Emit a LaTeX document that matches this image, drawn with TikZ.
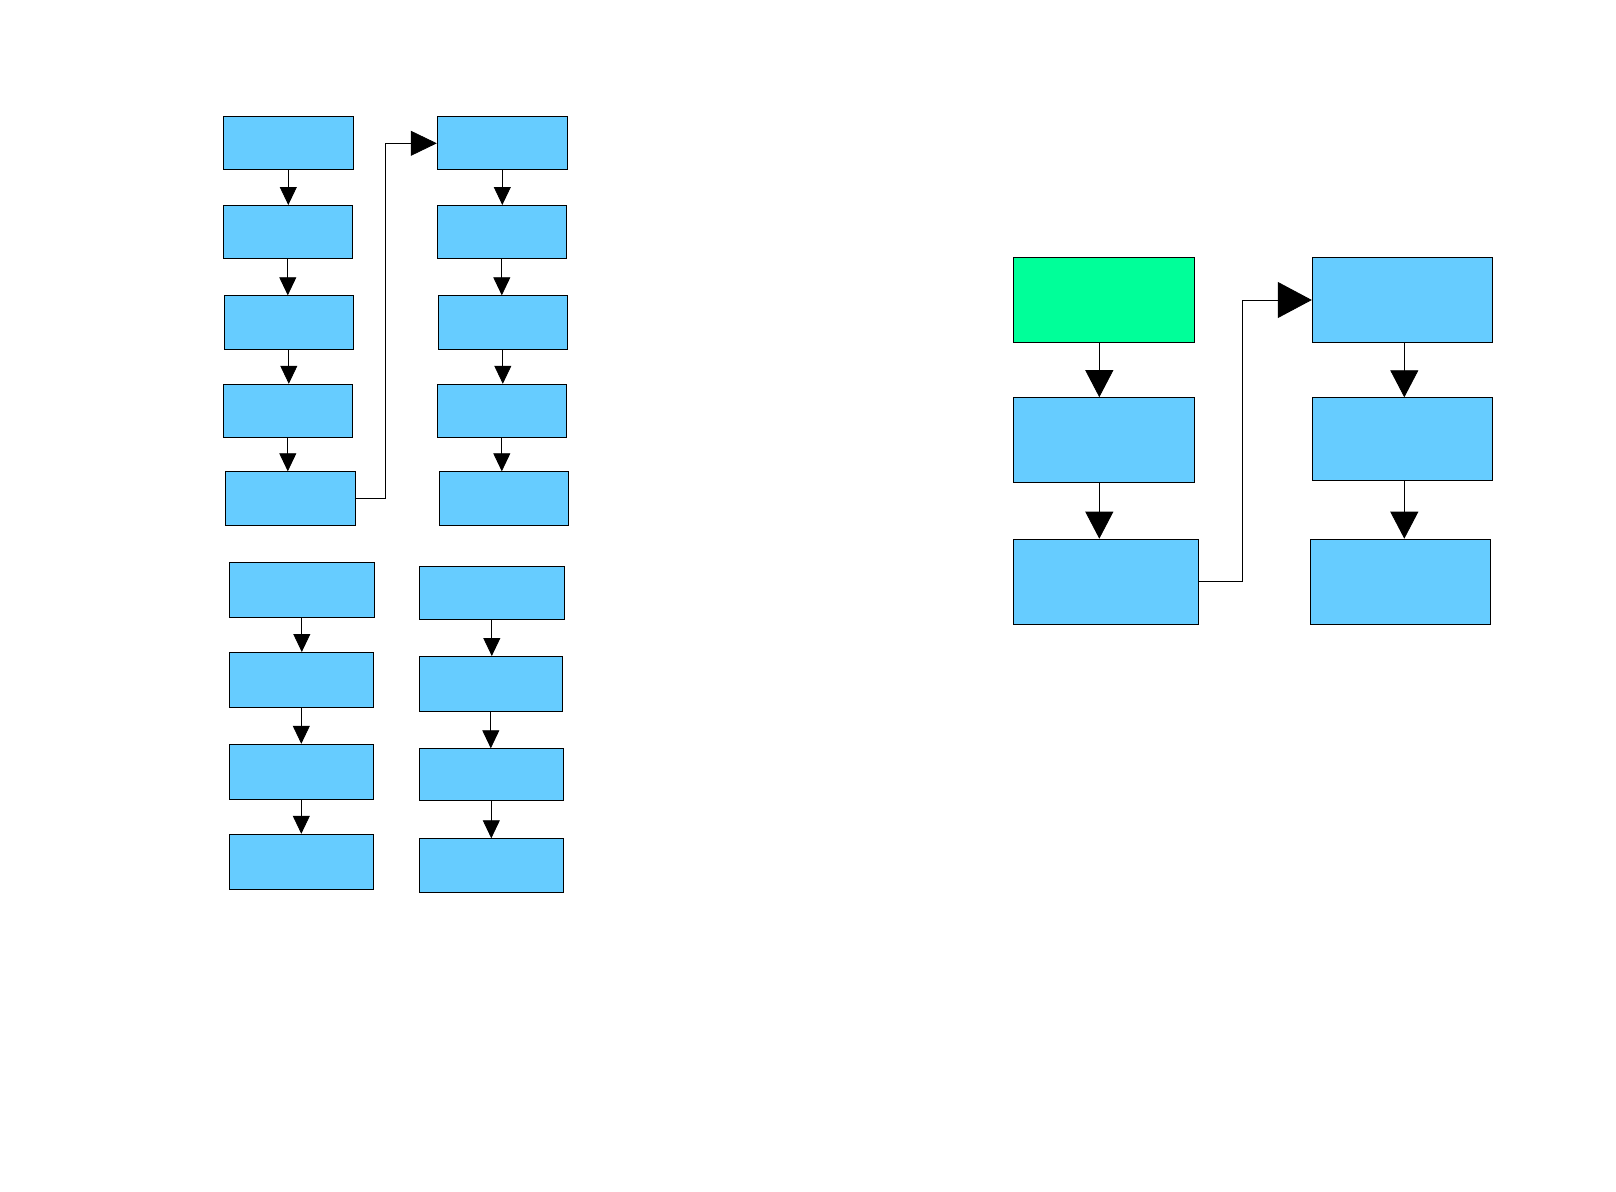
\documentclass[tikz,border=0pt]{standalone}
\usetikzlibrary{arrows.meta,calc}

\definecolor{boxblue}{HTML}{66CCFF}
\definecolor{startgreen}{HTML}{00FF99}

\begin{document}
\begin{tikzpicture}[x=1pt, y=-1pt,
    box/.style={draw=black, line width=1pt, fill=boxblue, inner sep=0pt},
    smallarrow/.style={line width=0.8pt, -{Triangle[length=18pt, width=17pt]}},
    bigarrow/.style={line width=0.8pt, -{Triangle[length=27pt, width=28pt]}}]

    \useasboundingbox (0,0) rectangle (1616,1191);

    % --- 1. Upper left chain ---
    \node[box, minimum width=130pt, minimum height=53pt] (L1) at (288.3,143.3) {};
    \node[box, minimum width=129pt, minimum height=53pt] (L2) at (287.8,232) {};
    \node[box, minimum width=129pt, minimum height=54pt] (L3) at (288.8,322.8) {};
    \node[box, minimum width=129pt, minimum height=53pt] (L4) at (287.8,410.8) {};
    \node[box, minimum width=130pt, minimum height=54pt] (L5) at (290.5,498.8) {};

    \node[box, minimum width=130pt, minimum height=53pt] (R1) at (502.3,143.3) {};
    \node[box, minimum width=129pt, minimum height=53pt] (R2) at (501.8,232) {};
    \node[box, minimum width=129pt, minimum height=54pt] (R3) at (502.8,322.8) {};
    \node[box, minimum width=129pt, minimum height=53pt] (R4) at (501.8,410.8) {};
    \node[box, minimum width=129pt, minimum height=54pt] (R5) at (503.8,498.8) {};

    \draw[smallarrow] (L1.south) -- (L1.south |- L2.north);
    \draw[smallarrow] (L2.south) -- (L2.south |- L3.north);
    \draw[smallarrow] (L3.south) -- (L3.south |- L4.north);
    \draw[smallarrow] (L4.south) -- (L4.south |- L5.north);

    \draw[smallarrow] (R1.south) -- (R1.south |- R2.north);
    \draw[smallarrow] (R2.south) -- (R2.south |- R3.north);
    \draw[smallarrow] (R3.south) -- (R3.south |- R4.north);
    \draw[smallarrow] (R4.south) -- (R4.south |- R5.north);

    % link from bottom of first column to top of second
    \draw[line width=0.8pt, -{Triangle[length=26pt, width=25pt]}]
        (L5.east) -- ++(29,0) |- (R1.west);

    % --- 2. Lower left chains ---
    \node[box, minimum width=145pt, minimum height=55pt] (B1) at (301.8,590) {};
    \node[box, minimum width=144pt, minimum height=55pt] (B2) at (301.3,680) {};
    \node[box, minimum width=144pt, minimum height=55pt] (B3) at (301.3,771.8) {};
    \node[box, minimum width=144pt, minimum height=55pt] (B4) at (301.3,861.8) {};

    \node[box, minimum width=145pt, minimum height=53pt] (C1) at (491.8,593.3) {};
    \node[box, minimum width=143pt, minimum height=55pt] (C2) at (490.8,684) {};
    \node[box, minimum width=144pt, minimum height=52pt] (C3) at (491.3,774.8) {};
    \node[box, minimum width=144pt, minimum height=54pt] (C4) at (491.3,865.8) {};

    \draw[smallarrow] (B1.south) -- (B1.south |- B2.north);
    \draw[smallarrow] (B2.south) -- (B2.south |- B3.north);
    \draw[smallarrow] (B3.south) -- (B3.south |- B4.north);

    \draw[smallarrow] (C1.south) -- (C1.south |- C2.north);
    \draw[smallarrow] (C2.south) -- (C2.south |- C3.north);
    \draw[smallarrow] (C3.south) -- (C3.south |- C4.north);

    % --- 3. Right group ---
    \node[box, fill=startgreen, minimum width=181pt, minimum height=85pt] (G) at (1103.8,300) {};
    \node[box, minimum width=181pt, minimum height=85pt] (D2) at (1103.8,440.2) {};
    \node[box, minimum width=185pt, minimum height=85pt] (D3) at (1106,581.7) {};

    \node[box, minimum width=180pt, minimum height=85pt] (E1) at (1402.3,300) {};
    \node[box, minimum width=180pt, minimum height=83pt] (E2) at (1402.3,439.3) {};
    \node[box, minimum width=180pt, minimum height=85pt] (E3) at (1400.8,581.7) {};

    \draw[bigarrow] ($(G.south)+(-4.5,0)$) -- ($(D2.north)+(-4.5,0)$);
    \draw[bigarrow] ($(D2.south)+(-4.5,0)$) -- ($(D2.south |- D3.north)+(-4.5,0)$);
    \draw[bigarrow] ($(E1.south)+(2,0)$) -- ($(E2.north)+(2,0)$);
    \draw[bigarrow] ($(E2.south)+(2,0)$) -- ($(E2.south |- E3.north)+(2,0)$);

    \draw[line width=0.8pt, -{Triangle[length=34pt, width=36pt]}]
        (D3.east) -- ++(43.6,0) |- (E1.west);

\end{tikzpicture}
\end{document}
